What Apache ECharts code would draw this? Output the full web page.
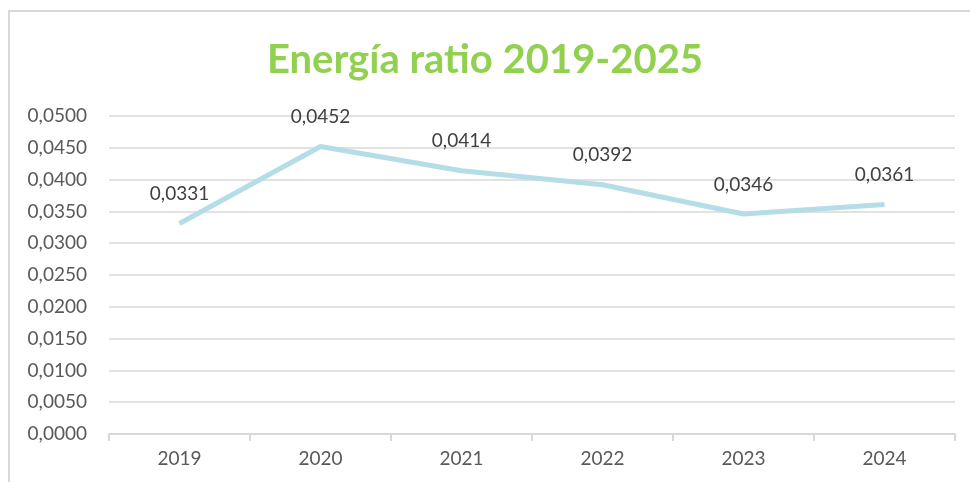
<!DOCTYPE html>
<html>
<head>
<meta charset="utf-8">
<script src="https://cdn.jsdelivr.net/npm/echarts@6/dist/echarts.min.js"></script>
<style>
  html, body { margin: 0; padding: 0; background: #fff; }
  #frame { position: absolute; left: 8px; top: 10px; width: 980px; height: 500px; border: 2px solid #d9d9d9; box-sizing: border-box; }
  #chart { position: absolute; left: 0; top: 0; width: 970px; height: 482px; }
</style>
</head>
<body>
<div id="frame"></div>
<div id="chart"></div>
<script>
const years = ['2019', '2020', '2021', '2022', '2023', '2024'];
const ratios = [0.0331, 0.0452, 0.0414, 0.0392, 0.0346, 0.0361];

const fmt = v => v.toFixed(4).replace('.', ',');

const chart = echarts.init(document.getElementById('chart'));
chart.setOption({
  animation: false,
  title: {
    text: 'Energía ratio 2019-2025',
    left: 'center',
    top: 35,
    textStyle: { color: '#92d050', fontSize: 40, fontWeight: 'bold', fontFamily: 'Lato' }
  },
  grid: { left: 109, right: 15, top: 116, bottom: 48 },
  xAxis: {
    type: 'category',
    data: years,
    axisLine: { lineStyle: { color: '#d9d9d9', width: 2 } },
    axisTick: { show: true, length: 7, lineStyle: { color: '#d9d9d9', width: 2 } },
    axisLabel: { color: '#595959', fontSize: 19, fontFamily: 'Lato', margin: 15 }
  },
  yAxis: {
    type: 'value',
    min: 0,
    max: 0.05,
    interval: 0.005,
    axisLabel: { color: '#595959', fontSize: 19, fontFamily: 'Lato', margin: 22, formatter: fmt },
    splitLine: { lineStyle: { color: '#d9d9d9', width: 1.5 } }
  },
  series: [{
    type: 'line',
    data: ratios,
    symbol: 'circle',
    symbolSize: 0,
    lineStyle: { color: '#b4dde7', width: 5 },
    itemStyle: { color: '#b4dde7' },
    label: {
      show: true,
      position: 'top',
      distance: 20,
      color: '#404040',
      fontSize: 19,
      fontFamily: 'Lato',
      formatter: p => fmt(p.value)
    }
  }]
});
</script>
</body>
</html>
